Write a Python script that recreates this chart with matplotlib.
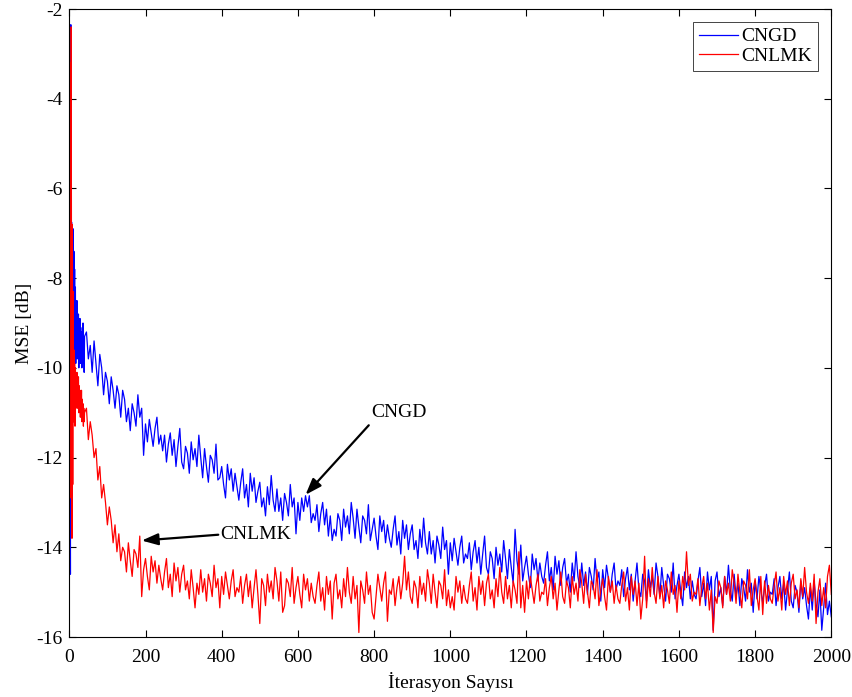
import matplotlib
matplotlib.use("Agg")
import matplotlib.pyplot as plt
import numpy as np

# iterations 1..40 every step, then every 5 up to 2000
it_early = list(range(1, 41))
it_late = list(range(45, 2001, 5))

cngd_early = [-9.4, -11.6, -14.6, -2.35, -8.8, -6.75, -11.9, -7.1, -8.4, -6.9,
              -9.7, -7.4, -8.9, -7.8, -9.6, -8.2, -9.9, -8.6, -9.3, -8.5,
              -9.8, -8.9, -9.5, -8.8, -10.0, -9.0, -9.6, -8.9, -9.9, -9.1,
              -9.7, -9.2, -10.0, -9.3, -9.8, -9.0, -9.9, -9.4, -10.1, -9.3]
cnlmk_early = [-3.2, -11.4, -8.7, -12.9, -2.4, -10.1, -13.8, -6.8, -12.6, -8.3,
               -11.2, -9.6, -10.6, -9.9, -11.3, -10.0, -10.9, -10.2, -10.8, -10.1,
               -10.9, -10.3, -10.7, -10.2, -11.0, -10.4, -10.9, -10.5, -11.1, -10.6,
               -11.0, -10.5, -11.2, -10.7, -11.1, -10.8, -11.3, -10.9, -11.2, -11.0]

cngd_late = [
    -9.2, -9.8, -9.5, -10.1, -9.4, -9.9, -10.4, -9.7, -10.0, -10.6, -10.1, -10.3, -10.8, -10.2, -10.5, -10.9, -10.4, -10.6, -11.1, -10.5,
    -10.7, -11.2, -10.9, -11.4, -10.8, -11.0, -11.3, -10.6, -11.1, -10.9, -11.95, -11.25, -11.65, -11.15, -11.45, -11.75, -11.35, -11.1, -11.7, -11.5,
    -11.85, -11.5, -12.1, -11.7, -11.45, -11.95, -11.6, -12.2, -11.75, -11.35, -12.1, -12.25, -11.75, -11.9, -12.35, -11.65, -12.05, -11.8, -12.2, -11.5,
    -12.0, -12.45, -11.8, -12.2, -12.55, -11.95, -12.05, -12.35, -11.7, -12.5, -12.45, -12.2, -12.6, -12.9, -12.15, -12.5, -12.25, -12.75, -12.35, -12.65,
    -12.95, -12.55, -12.25, -12.9, -12.6, -13.1, -12.35, -12.75, -12.45, -13.0, -12.75, -12.55, -13.1, -12.9, -13.3, -12.65, -13.05, -12.4, -12.95, -13.2,
    -12.7, -13.2, -12.9, -13.4, -12.8, -13.0, -13.3, -12.6, -13.1, -12.9, -13.7, -13.0, -13.4, -12.9, -13.2, -12.85, -13.1, -12.85, -13.45, -13.25,
    -13.4, -13.05, -13.65, -13.25, -13.0, -13.5, -13.15, -13.75, -13.3, -13.85, -13.6, -13.75, -13.25, -13.4, -13.85, -13.15, -13.55, -13.3, -13.7, -13.0,
    -13.35, -13.8, -13.15, -13.55, -13.9, -13.3, -13.4, -13.7, -13.05, -13.85, -13.6, -13.35, -13.75, -14.05, -13.3, -13.65, -13.4, -13.9, -13.5, -13.8,
    -14.0, -13.6, -13.3, -13.95, -13.65, -14.15, -13.4, -13.8, -13.5, -14.05, -13.7, -13.5, -14.05, -13.85, -14.25, -13.6, -14.0, -13.35, -13.9, -14.15,
    -13.65, -14.15, -13.85, -14.35, -13.75, -13.95, -14.25, -13.55, -14.05, -13.85, -14.6, -13.9, -14.3, -13.8, -14.1, -14.4, -14.0, -13.75, -14.35, -14.15,
    -14.25, -13.9, -14.5, -14.1, -13.85, -14.35, -14.0, -14.6, -14.15, -13.75, -14.45, -14.6, -14.1, -14.25, -14.7, -14.0, -14.4, -14.15, -14.55, -13.85,
    -14.25, -14.7, -14.05, -14.45, -14.8, -13.6, -14.3, -14.6, -13.95, -14.75, -14.45, -14.2, -14.6, -14.9, -14.15, -14.5, -14.25, -14.75, -14.35, -14.65,
    -14.8, -14.4, -14.1, -14.75, -14.45, -14.95, -14.2, -14.6, -14.3, -14.85, -14.45, -14.25, -14.8, -14.6, -15.0, -14.35, -14.75, -14.1, -14.65, -14.9,
    -14.35, -14.85, -14.55, -15.05, -14.45, -14.65, -14.95, -14.25, -14.75, -14.55, -15.2, -14.5, -14.9, -14.4, -14.7, -15.0, -14.6, -14.35, -14.95, -14.75,
    -14.85, -14.5, -15.1, -14.7, -14.45, -14.95, -14.6, -15.2, -14.75, -14.35, -14.95, -15.1, -14.6, -14.75, -15.2, -14.5, -14.9, -14.65, -15.05, -14.35,
    -14.65, -15.1, -14.45, -14.85, -15.2, -14.6, -14.7, -15.0, -14.35, -15.15, -14.85, -14.6, -15.0, -15.3, -14.55, -14.9, -14.65, -15.15, -14.75, -15.05,
    -15.15, -14.75, -14.45, -15.1, -14.8, -15.3, -14.55, -14.95, -14.65, -15.85, -14.75, -14.55, -15.1, -14.9, -15.3, -14.65, -15.05, -14.4, -14.95, -15.2,
    -14.6, -15.1, -14.8, -15.3, -14.7, -14.9, -15.2, -14.5, -15.0, -14.8, -15.45, -14.75, -15.15, -14.65, -14.95, -15.25, -14.85, -14.6, -15.2, -15.0,
    -15.05, -14.7, -15.3, -14.9, -14.65, -15.15, -14.8, -15.4, -14.95, -14.55, -15.2, -15.35, -14.85, -15.0, -15.45, -14.75, -15.15, -14.9, -15.3, -15.6,
    -14.9, -15.4, -14.75, -15.25, -15.55, -14.95, -15.85, -15.35, -14.8, -15.5, -15.2, -15.55]

cnlmk_late = [
    -10.9, -11.6, -11.2, -11.5, -12.0, -11.8, -12.5, -12.2, -12.9, -12.6, -13.0, -13.5, -13.1, -13.4, -13.9, -13.5, -14.1, -13.7, -14.3, -14.0,
    -14.1, -14.55, -13.9, -14.3, -14.65, -14.05, -14.15, -14.45, -13.75, -15.1, -14.5, -14.25, -14.65, -14.95, -14.2, -14.55, -14.3, -14.8, -14.4, -14.7,
    -14.95, -14.55, -14.25, -14.9, -14.6, -15.1, -14.35, -14.75, -14.45, -15.0, -14.6, -14.4, -14.95, -14.75, -15.15, -14.5, -14.9, -15.35, -14.8, -15.05,
    -14.5, -15.0, -14.7, -15.2, -14.6, -14.8, -15.1, -14.4, -14.9, -14.7, -15.35, -14.65, -15.05, -14.55, -14.85, -15.15, -14.75, -14.5, -15.1, -14.9,
    -15.0, -14.65, -15.25, -14.85, -14.6, -15.1, -14.75, -15.35, -14.9, -14.5, -15.05, -15.7, -14.7, -14.85, -15.3, -14.6, -15.0, -14.75, -15.15, -14.45,
    -14.75, -15.2, -14.55, -15.45, -15.3, -14.7, -14.8, -15.1, -14.45, -15.25, -14.9, -14.65, -15.05, -15.35, -14.6, -14.95, -14.7, -15.2, -14.8, -15.1,
    -15.25, -14.85, -14.55, -15.2, -14.9, -15.4, -14.65, -15.05, -14.75, -15.6, -14.8, -14.6, -15.15, -14.95, -15.35, -14.7, -15.1, -14.45, -15.0, -15.25,
    -14.65, -15.15, -14.85, -15.9, -14.75, -14.95, -15.25, -14.55, -15.05, -14.85, -15.45, -15.6, -15.1, -14.6, -14.9, -15.2, -14.8, -14.55, -15.65, -14.95,
    -15.05, -14.7, -15.3, -14.9, -14.65, -15.15, -14.8, -14.2, -14.95, -14.55, -15.1, -15.25, -14.75, -14.9, -15.35, -14.65, -15.05, -14.8, -15.2, -14.5,
    -14.8, -15.25, -14.6, -15.0, -15.35, -14.75, -14.85, -15.15, -14.5, -15.3, -14.95, -15.35, -15.1, -15.4, -14.65, -15.0, -14.75, -15.25, -14.85, -15.15,
    -15.25, -14.85, -14.55, -15.2, -14.9, -15.4, -14.65, -15.05, -14.75, -15.3, -14.8, -14.6, -15.15, -14.95, -15.35, -14.7, -15.1, -14.45, -15.0, -15.25,
    -14.65, -15.15, -14.85, -15.35, -14.75, -14.95, -15.25, -14.1, -15.35, -14.85, -15.45, -14.75, -15.15, -14.65, -14.95, -15.25, -14.85, -14.6, -15.2, -15.0,
    -15.05, -14.7, -15.3, -14.9, -14.65, -15.15, -14.8, -15.4, -14.95, -14.55, -15.1, -15.25, -14.75, -14.9, -15.35, -14.65, -15.05, -14.8, -15.2, -14.5,
    -14.8, -15.25, -14.6, -15.0, -15.35, -14.75, -14.85, -15.15, -14.5, -15.3, -14.95, -14.7, -15.1, -15.4, -14.65, -15.0, -14.75, -15.25, -14.85, -15.15,
    -15.25, -14.85, -14.55, -15.2, -14.9, -15.4, -14.65, -15.05, -14.75, -15.3, -14.8, -15.6, -15.15, -14.2, -15.35, -14.7, -15.1, -14.45, -15.0, -15.25,
    -14.65, -15.15, -14.85, -15.35, -14.75, -14.95, -15.25, -14.55, -15.05, -14.85, -15.45, -14.75, -15.15, -14.65, -14.95, -14.1, -14.85, -14.6, -15.2, -15.0,
    -15.05, -14.7, -15.3, -14.9, -14.65, -15.15, -14.8, -15.4, -14.95, -15.9, -15.1, -15.25, -14.75, -14.9, -15.35, -14.65, -15.05, -14.8, -15.2, -14.5,
    -14.8, -15.25, -14.6, -15.0, -15.35, -14.75, -14.85, -15.15, -14.5, -15.3, -14.95, -14.7, -15.1, -15.4, -14.65, -15.5, -14.75, -15.25, -14.85, -15.15,
    -15.25, -14.85, -14.55, -15.2, -14.9, -15.4, -14.65, -15.05, -14.75, -15.3, -14.8, -14.6, -15.15, -14.95, -15.35, -14.7, -15.1, -14.45, -15.0, -15.25,
    -14.8, -15.2, -14.6, -15.7, -15.0, -14.7, -15.3, -14.9, -15.35, -14.65, -14.4, -15.05]

iters = np.array(it_early + it_late)
cngd = np.array(cngd_early + cngd_late)
cnlmk = np.array(cnlmk_early + cnlmk_late)

plt.rcParams["font.family"] = ["Liberation Serif", "DejaVu Serif"]
plt.rcParams["font.size"] = 14
plt.rcParams["axes.unicode_minus"] = False

fig = plt.figure(figsize=(8.53, 6.97), dpi=100)
ax = fig.add_axes([69.3 / 853, 60 / 697, 762 / 853, 628 / 697])

ax.plot(iters, cngd, color="#0000ff", lw=0.9, label="CNGD")
ax.plot(iters, cnlmk, color="#ff0000", lw=0.9, label="CNLMK")

ax.set_xlim(0, 2000)
ax.set_ylim(-16, -2)
ax.set_xticks(np.arange(0, 2001, 200))
ax.set_yticks(np.arange(-16, -1, 2))
ax.tick_params(direction="in", top=True, right=True, length=5, width=0.8)
ax.tick_params(axis="x", pad=9)
ax.tick_params(axis="y", pad=5)
for s in ax.spines.values():
    s.set_linewidth(0.8)
ax.set_xlabel("İterasyon Sayısı", labelpad=4)
ax.set_ylabel("MSE [dB]", labelpad=2)

arw = dict(arrowstyle="-|>,head_length=0.7,head_width=0.25", color="black",
           lw=1.6, shrinkA=0, shrinkB=0)
ax.annotate("", xy=(620, -12.83), xytext=(786, -11.28), arrowprops=arw)
ax.text(866, -11.0, "CNGD", ha="center", va="center")
ax.annotate("", xy=(190, -13.85), xytext=(391, -13.72), arrowprops=arw)
ax.text(488, -13.72, "CNLMK", ha="center", va="center")

leg = ax.legend(loc="upper right", bbox_to_anchor=(1 - 13 / 762, 1 - 13 / 628),
                borderaxespad=0, fancybox=False, framealpha=1, edgecolor="#262626",
                handlelength=2.0, handletextpad=0.2, borderpad=0.3, labelspacing=0.1)
leg.get_frame().set_linewidth(0.6)

fig.savefig("out.png", dpi=100)
